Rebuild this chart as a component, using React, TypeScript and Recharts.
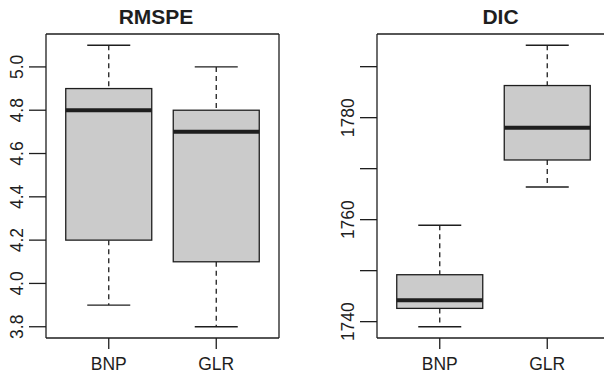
import React from 'react'
import { ComposedChart, Bar, XAxis, YAxis } from 'recharts'

const categories = ['BNP', 'GLR']

const rmspeMin = [3.9, 3.8]
const rmspeQ1 = [4.2, 4.1]
const rmspeMedian = [4.8, 4.7]
const rmspeQ3 = [4.9, 4.8]
const rmspeMax = [5.1, 5.0]
const rmspeTicks = [3.8, 4.0, 4.2, 4.4, 4.6, 4.8, 5.0]

const dicMin = [1739.0, 1766.4]
const dicQ1 = [1742.6, 1771.7]
const dicMedian = [1744.2, 1778.0]
const dicQ3 = [1749.2, 1786.3]
const dicMax = [1758.9, 1794.2]
const dicTicks = [1740, 1750, 1760, 1770, 1780, 1790]
const dicLabels = [1740, 1760, 1780]

const INK = '#1e1e1e'
const FILL = '#cbcbcb'
const FONT = '"Liberation Sans", Arial, sans-serif'

type Row = { name: string; min: number; q1: number; median: number; q3: number; max: number }

function buildRows(mins: number[], q1s: number[], meds: number[], q3s: number[], maxs: number[]): Row[] {
  return categories.map((name, i) => ({
    name,
    min: mins[i],
    q1: q1s[i],
    median: meds[i],
    q3: q3s[i],
    max: maxs[i],
  }))
}

// R style range: data range widened by 4% each side
function rDomain(rows: Row[]): [number, number] {
  const lo = Math.min(...rows.map((r) => r.min))
  const hi = Math.max(...rows.map((r) => r.max))
  const pad = (hi - lo) * 0.04
  return [lo - pad, hi + pad]
}

function BoxShape(props: any) {
  const { x, y, width, height, payload } = props
  const { min, q1, median, q3, max } = payload as Row
  const top = Math.min(y, y + height)
  const h = Math.abs(height)
  const py = (v: number) => top + ((max - v) / (max - min)) * h
  const cx = x + width / 2
  const cap = width / 4
  return (
    <g>
      <line x1={cx} x2={cx} y1={py(max)} y2={py(q3)} stroke={INK} strokeWidth={1.3} strokeDasharray="5 4" />
      <line x1={cx} x2={cx} y1={py(q1)} y2={py(min)} stroke={INK} strokeWidth={1.3} strokeDasharray="5 4" />
      <line x1={cx - cap} x2={cx + cap} y1={py(max)} y2={py(max)} stroke={INK} strokeWidth={1.3} />
      <line x1={cx - cap} x2={cx + cap} y1={py(min)} y2={py(min)} stroke={INK} strokeWidth={1.3} />
      <rect x={x} y={py(q3)} width={width} height={py(q1) - py(q3)} fill={FILL} stroke={INK} strokeWidth={1.3} />
      <line x1={x} x2={x + width} y1={py(median)} y2={py(median)} stroke={INK} strokeWidth={4} />
    </g>
  )
}

const NoShape = () => <g />

function YTick(props: any) {
  const { x, y, payload, shown } = props
  if (shown && !shown.includes(payload.value)) return null
  const label = shown ? String(payload.value) : Number(payload.value).toFixed(1)
  return (
    <text
      x={x}
      y={y}
      transform={`rotate(-90, ${x}, ${y})`}
      textAnchor="middle"
      fontSize={17.5}
      fontFamily={FONT}
      fill={INK}
    >
      {label}
    </text>
  )
}

function XTick(props: any) {
  const { x, y, payload } = props
  return (
    <text x={x} y={y + 12.5} textAnchor="middle" fontSize={17.5} fontFamily={FONT} fill={INK}>
      {payload.value}
    </text>
  )
}

function Panel({
  rows,
  ticks,
  shown,
  width,
  yAxisWidth,
  rightMargin,
}: {
  rows: Row[]
  ticks: number[]
  shown?: number[]
  width: number
  yAxisWidth: number
  rightMargin: number
}) {
  const domain = rDomain(rows)
  return (
    <ComposedChart
      width={width}
      height={375}
      data={rows}
      margin={{ top: 33, right: rightMargin, bottom: 0, left: 0 }}
      barCategoryGap="10%"
    >
      <XAxis
        dataKey="name"
        height={37}
        padding={{ left: 9, right: 9 }}
        tickSize={11}
        tickMargin={8}
        axisLine={{ stroke: INK, strokeWidth: 1.3 }}
        tickLine={{ stroke: INK, strokeWidth: 1.3 }}
        tick={<XTick />}
      />
      <XAxis
        xAxisId="top"
        dataKey="name"
        orientation="top"
        height={1}
        padding={{ left: 9, right: 9 }}
        tick={false}
        tickLine={false}
        axisLine={{ stroke: INK, strokeWidth: 1.3 }}
      />
      <YAxis
        type="number"
        domain={domain}
        ticks={ticks}
        width={yAxisWidth}
        tickSize={17}
        tickMargin={6}
        allowDataOverflow
        axisLine={{ stroke: INK, strokeWidth: 1.3 }}
        tickLine={{ stroke: INK, strokeWidth: 1.3 }}
        tick={<YTick shown={shown} />}
      />
      <YAxis
        yAxisId="right"
        orientation="right"
        type="number"
        domain={domain}
        allowDataOverflow
        width={1}
        tick={false}
        tickLine={false}
        axisLine={{ stroke: INK, strokeWidth: 1.3 }}
      />
      <Bar
        dataKey={(d: Row) => [d.min, d.max]}
        shape={<BoxShape />}
        isAnimationActive={false}
      />
      <Bar
        xAxisId="top"
        yAxisId="right"
        dataKey={(d: Row) => [d.min, d.max]}
        shape={<NoShape />}
        isAnimationActive={false}
      />
    </ComposedChart>
  )
}

export default function App() {
  const rmspeRows = buildRows(rmspeMin, rmspeQ1, rmspeMedian, rmspeQ3, rmspeMax)
  const dicRows = buildRows(dicMin, dicQ1, dicMedian, dicQ3, dicMax)
  return (
    <div
      style={{
        position: 'fixed',
        left: 0,
        top: 0,
        width: 604,
        height: 375,
        overflow: 'hidden',
        background: '#fff',
        fontFamily: FONT,
      }}
    >
      <div style={{ position: 'absolute', left: 0, top: 0 }}>
        <Panel rows={rmspeRows} ticks={rmspeTicks} width={300} yAxisWidth={46} rightMargin={20} />
      </div>
      <div style={{ position: 'absolute', left: 300, top: 0 }}>
        <Panel rows={dicRows} ticks={dicTicks} shown={dicLabels} width={320} yAxisWidth={77} rightMargin={9} />
      </div>
      <svg
        width={604}
        height={375}
        style={{ position: 'absolute', left: 0, top: 0, pointerEvents: 'none' }}
      >
        <text x={156} y={23.5} textAnchor="middle" fontSize={21} fontWeight="bold" fontFamily={FONT} fill={INK}>
          RMSPE
        </text>
        <text x={500.5} y={23.5} textAnchor="middle" fontSize={21} fontWeight="bold" fontFamily={FONT} fill={INK}>
          DIC
        </text>
      </svg>
    </div>
  )
}
